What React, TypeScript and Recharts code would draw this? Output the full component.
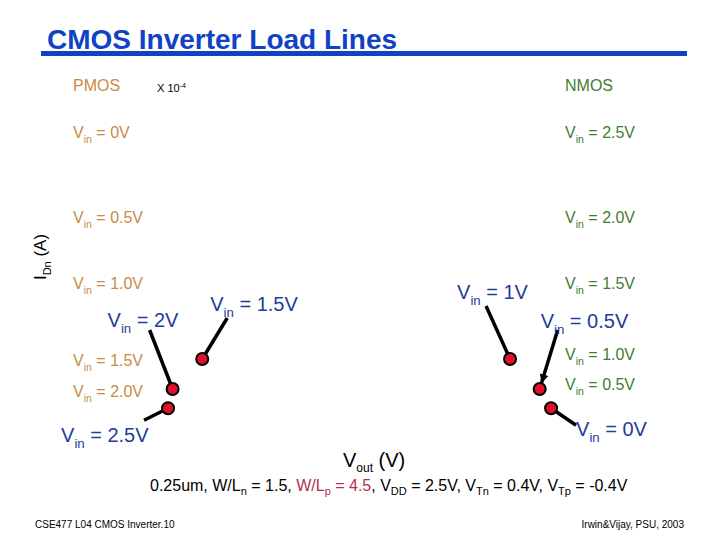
import React from "react";
import { ScatterChart, Scatter, XAxis, YAxis } from "recharts";

// operating points (Vout in V, IDn in units of 1e-4 A)
const voutPoints = [0.43, 0.45, 0.58, 1.93, 2.06, 2.11];
const idnPoints = [0.53, 0.85, 1.35, 1.35, 0.85, 0.53];
const pointVin = ["2.5V", "2V", "1.5V", "1V", "0.5V", "0V"];

// curve labels
const pmosVin = ["0V", "0.5V", "1.0V", "1.5V", "2.0V"];
const nmosVin = ["2.5V", "2.0V", "1.5V", "1.0V", "0.5V"];

// callout geometry per point (pixels, relative to the dot)
const callouts = [
  { dx: -24, dy: 12, lx: -107, ly: 34 },
  { dx: -23, dy: -59, lx: -65, ly: -62 },
  { dx: 25, dy: -41, lx: 8, ly: -48 },
  { dx: -24, dy: -53, lx: -53, ly: -60 },
  { dx: 18, dy: -59, lx: 1, ly: -61, arrow: true },
  { dx: 25, dy: 17, lx: 25, ly: 28 },
];

const pmosY = [138, 223, 289, 366, 397];
const nmosY = [138, 223, 289, 360, 390];

const FONT = "'Liberation Sans', Arial, sans-serif";
const BLUE = "#1f3d99";
const ORANGE = "#c98a46";
const GREEN = "#3f7d30";

const data = voutPoints.map((v, i) => ({ vout: v, idn: idnPoints[i], vin: pointVin[i], idx: i }));

function VinText({ x, y, value, size, fill }: { x: number; y: number; value: string; size: number; fill: string }) {
  return (
    <text x={x} y={y} fontSize={size} fill={fill} fontFamily={FONT}>
      V
      <tspan fontSize={size * 0.66} dy={size * 0.3}>in</tspan>
      <tspan dy={-size * 0.3}>{` = ${value}`}</tspan>
    </text>
  );
}

function PointShape(props: any) {
  const { cx, cy, payload } = props;
  const c = callouts[payload.idx];
  const ex = cx + c.dx;
  const ey = cy + c.dy;
  let arrow = null;
  if (c.arrow) {
    const ang = Math.atan2(cy - ey, cx - ex);
    const tipx = cx - Math.cos(ang) * 6;
    const tipy = cy - Math.sin(ang) * 6;
    const a1 = ang + Math.PI - 0.45;
    const a2 = ang + Math.PI + 0.45;
    arrow = (
      <polygon
        points={`${tipx},${tipy} ${tipx + Math.cos(a1) * 10},${tipy + Math.sin(a1) * 10} ${tipx + Math.cos(a2) * 10},${tipy + Math.sin(a2) * 10}`}
        fill="#000"
      />
    );
  }
  return (
    <g>
      <line x1={ex} y1={ey} x2={cx} y2={cy} stroke="#000" strokeWidth={3.5} />
      {arrow}
      <circle cx={cx} cy={cy} r={6} fill="#e3102c" stroke="#000" strokeWidth={2} />
      <VinText x={cx + c.lx} y={cy + c.ly} value={payload.vin} size={20} fill={BLUE} />
    </g>
  );
}

export default function App() {
  return (
    <div style={{ position: "absolute", left: 0, top: 0, width: 720, height: 540, background: "#fff" }}>
      <svg width={720} height={540} style={{ position: "absolute", left: 0, top: 0 }}>
        <text x={47} y={49} fontSize={28} fontWeight="bold" fill="#1242c4" fontFamily={FONT}>
          CMOS Inverter Load Lines
        </text>
        <rect x={41} y={51} width={646} height={5} fill="#1242c4" />

        <text x={73} y={91} fontSize={16} fill={ORANGE} fontFamily={FONT}>PMOS</text>
        <text x={157} y={92} fontSize={11} fill="#000" fontFamily={FONT}>
          X 10<tspan fontSize={7} dy={-4}>-4</tspan>
        </text>
        <text x={565} y={91} fontSize={16} fill={GREEN} fontFamily={FONT}>NMOS</text>

        {pmosVin.map((v, i) => (
          <VinText key={"p" + i} x={73} y={pmosY[i]} value={v} size={16} fill={ORANGE} />
        ))}
        {nmosVin.map((v, i) => (
          <VinText key={"n" + i} x={565} y={nmosY[i]} value={v} size={16} fill={GREEN} />
        ))}

        <text x={0} y={0} fontSize={17} fill="#000" fontFamily={FONT} textAnchor="middle" transform="translate(46,257) rotate(-90)">
          I<tspan fontSize={11} dy={5}>Dn</tspan>
          <tspan dy={-5}> (A)</tspan>
        </text>

        <text x={343} y={467} fontSize={20} fill="#000" fontFamily={FONT}>
          V<tspan fontSize={12} dy={5}>out</tspan>
          <tspan dy={-5}> (V)</tspan>
        </text>

        <text x={150} y={491} fontSize={16} fill="#000" fontFamily={FONT}>
          0.25um, W/L<tspan fontSize={11} dy={4}>n</tspan>
          <tspan dy={-4}> = 1.5, </tspan>
          <tspan fill="#b3304c">W/L</tspan>
          <tspan fill="#b3304c" fontSize={11} dy={4}>p</tspan>
          <tspan fill="#b3304c" dy={-4}> = 4.5</tspan>
          <tspan>, V</tspan>
          <tspan fontSize={11} dy={4}>DD</tspan>
          <tspan dy={-4}> = 2.5V, V</tspan>
          <tspan fontSize={11} dy={4}>Tn</tspan>
          <tspan dy={-4}> = 0.4V, V</tspan>
          <tspan fontSize={11} dy={4}>Tp</tspan>
          <tspan dy={-4}> = -0.4V</tspan>
        </text>

        <text x={35} y={528} fontSize={10} fill="#000" fontFamily={FONT}>CSE477 L04 CMOS Inverter.10</text>
        <text x={684} y={528} fontSize={10} fill="#000" fontFamily={FONT} textAnchor="end">Irwin&amp;Vijay, PSU, 2003</text>
      </svg>

      <div style={{ position: "absolute", left: 0, top: 0 }}>
        <ScatterChart width={720} height={540} margin={{ top: 80, right: 80, bottom: 100, left: 70 }}>
          <XAxis type="number" dataKey="vout" domain={[0, 2.5]} hide />
          <YAxis type="number" dataKey="idn" domain={[0, 6]} hide width={0} />
          <Scatter data={data} shape={PointShape} isAnimationActive={false} />
        </ScatterChart>
      </div>
    </div>
  );
}
